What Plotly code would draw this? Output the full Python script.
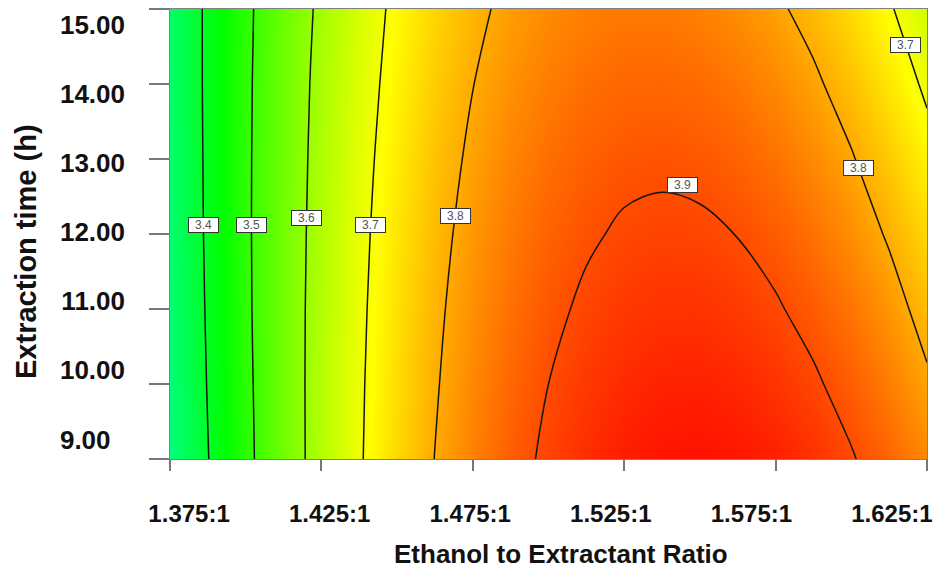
import numpy as np
import plotly.graph_objects as go

# ---------------- data ----------------
x_ratio = [1.375, 1.3875, 1.4, 1.4125, 1.425, 1.4375, 1.45, 1.4625, 1.475, 1.4875, 1.5,
           1.5125, 1.525, 1.5375, 1.55, 1.5625, 1.575, 1.5875, 1.6, 1.6125, 1.625]
y_time = [9, 10, 11, 12, 13, 14, 15]

# response (yield) estimated at each grid node, one list per extraction time
z_t09 = [3.308, 3.398, 3.482, 3.560, 3.630, 3.694, 3.751, 3.801, 3.844, 3.881, 3.910,
         3.933, 3.950, 3.959, 3.962, 3.957, 3.947, 3.929, 3.904, 3.873, 3.835]
z_t10 = [3.314, 3.403, 3.485, 3.561, 3.630, 3.692, 3.747, 3.795, 3.837, 3.872, 3.900,
         3.921, 3.936, 3.944, 3.945, 3.939, 3.926, 3.907, 3.881, 3.848, 3.808]
z_t11 = [3.319, 3.407, 3.488, 3.561, 3.629, 3.689, 3.742, 3.789, 3.829, 3.862, 3.889,
         3.908, 3.921, 3.927, 3.927, 3.919, 3.905, 3.884, 3.856, 3.822, 3.780]
z_t12 = [3.324, 3.410, 3.489, 3.561, 3.626, 3.685, 3.737, 3.782, 3.820, 3.852, 3.877,
         3.894, 3.906, 3.910, 3.908, 3.899, 3.883, 3.860, 3.830, 3.794, 3.751]
z_t13 = [3.327, 3.411, 3.489, 3.559, 3.623, 3.680, 3.730, 3.774, 3.810, 3.840, 3.863,
         3.879, 3.889, 3.892, 3.888, 3.877, 3.859, 3.835, 3.804, 3.766, 3.721]
z_t14 = [3.330, 3.412, 3.488, 3.557, 3.619, 3.674, 3.722, 3.764, 3.799, 3.827, 3.849,
         3.863, 3.871, 3.872, 3.867, 3.854, 3.835, 3.809, 3.776, 3.736, 3.690]
z_t15 = [3.331, 3.412, 3.486, 3.553, 3.613, 3.667, 3.714, 3.754, 3.787, 3.814, 3.833,
         3.846, 3.852, 3.852, 3.844, 3.830, 3.809, 3.782, 3.747, 3.706, 3.658]

contour_levels = [3.4, 3.5, 3.6, 3.7, 3.8, 3.9]

x_tick_vals = [1.375, 1.425, 1.475, 1.525, 1.575, 1.625]
x_tick_text = ["1.375:1", "1.425:1", "1.475:1", "1.525:1", "1.575:1", "1.625:1"]
y_tick_vals = [9, 10, 11, 12, 13, 14, 15]
y_tick_text = ["9.00\u2007", "10.00", "11.00", "12.00", "13.00", "14.00", "15.00"]

x_title = "Ethanol to Extractant Ratio"
y_title = "Extraction time (h)"

# ---------------- helpers ----------------
X = np.array(x_ratio, dtype=float)
Y = np.array(y_time, dtype=float)
Z = np.array([z_t09, z_t10, z_t11, z_t12, z_t13, z_t14, z_t15], dtype=float)


def z_at(xv, yv):
    i = int(np.clip(np.searchsorted(X, xv) - 1, 0, len(X) - 2))
    j = int(np.clip(np.searchsorted(Y, yv) - 1, 0, len(Y) - 2))
    tx = (xv - X[i]) / (X[i + 1] - X[i])
    ty = (yv - Y[j]) / (Y[j + 1] - Y[j])
    return (Z[j, i] * (1 - tx) * (1 - ty) + Z[j, i + 1] * tx * (1 - ty)
            + Z[j + 1, i] * (1 - tx) * ty + Z[j + 1, i + 1] * tx * ty)


def x_cross(level, yv, lo, hi):
    xs = np.linspace(lo, hi, 2001)
    d = np.array([z_at(x, yv) for x in xs]) - level
    idx = np.where(np.sign(d[:-1]) != np.sign(d[1:]))[0]
    k = idx[0]
    return xs[k] + (xs[k + 1] - xs[k]) * (-d[k]) / (d[k + 1] - d[k])


def apex(level, lo, hi):
    best = (None, -1e9)
    for xv in np.linspace(lo, hi, 401):
        ys = np.linspace(Y[0], Y[-1], 1201)
        d = np.array([z_at(xv, y) for y in ys]) - level
        idx = np.where(np.sign(d[:-1]) != np.sign(d[1:]))[0]
        if len(idx):
            k = idx[-1]
            yc = ys[k] + (ys[k + 1] - ys[k]) * (-d[k]) / (d[k + 1] - d[k])
            if yc > best[1]:
                best = (xv, yc)
    return best


colorscale = [[0.0, "rgb(0,0,255)"], [0.25, "rgb(0,255,255)"], [0.5, "rgb(0,255,0)"],
              [0.75, "rgb(255,255,0)"], [1.0, "rgb(255,0,0)"]]

fig = go.Figure()
fig.add_trace(go.Heatmap(x=x_ratio, y=y_time, z=Z, zsmooth="best", colorscale=colorscale,
                         zmin=2.90, zmax=3.98, showscale=False, hoverinfo="skip"))
fig.add_trace(go.Contour(x=x_ratio, y=y_time, z=Z, showscale=False, hoverinfo="skip",
                         contours=dict(coloring="none", start=contour_levels[0],
                                       end=contour_levels[-1], size=0.1, showlabels=False),
                         line=dict(color="#151515", width=1.5, smoothing=1)))

# invisible carriers for the label axes
fig.add_trace(go.Scatter(x=x_tick_vals, y=[12] * len(x_tick_vals), xaxis="x2", yaxis="y",
                         mode="markers", marker=dict(opacity=0), hoverinfo="skip",
                         showlegend=False))
fig.add_trace(go.Scatter(x=[1.5] * len(y_tick_vals), y=y_tick_vals, xaxis="x", yaxis="y2",
                         mode="markers", marker=dict(opacity=0), hoverinfo="skip",
                         showlegend=False))

# contour labels (boxed), positioned on the lines computed from the grid
label_spots = [(3.4, 12.12, 1.375, 1.45), (3.5, 12.12, 1.375, 1.46), (3.6, 12.21, 1.40, 1.47),
               (3.7, 12.12, 1.42, 1.50), (3.8, 12.24, 1.44, 1.53), (3.8, 12.88, 1.56, 1.625),
               (3.7, 14.52, 1.58, 1.625)]
annotations = []
box = dict(bgcolor="white", bordercolor="#333333", borderwidth=1, borderpad=1,
           width=27, height=12, showarrow=False, xref="x", yref="y",
           font=dict(family="Liberation Sans, Arial, sans-serif", size=12, color="#555555"))
for lev, yv, lo, hi in label_spots:
    annotations.append(dict(x=x_cross(lev, yv, lo, hi), y=yv, text=f"{lev:.1f}", **box))
ax, ay = apex(3.9, 1.50, 1.60)
annotations.append(dict(x=ax, y=ay, text="3.9", xshift=20, yshift=7, **box))

annotations.append(dict(text=x_title, xref="paper", yref="paper", x=0.5, y=0, xshift=12,
                        yshift=-95, showarrow=False, xanchor="center", yanchor="middle",
                        font=dict(family="Liberation Sans, Arial, sans-serif", size=26,
                                  color="#111111", weight="bold")))
annotations.append(dict(text=y_title, xref="paper", yref="paper", x=0, y=0.5, xshift=-144,
                        yshift=-18, textangle=-90, showarrow=False, xanchor="center",
                        yanchor="middle",
                        font=dict(family="Liberation Sans, Arial, sans-serif", size=29,
                                  color="#111111", weight="bold")))

tickfont_x = dict(family="Liberation Sans, Arial, sans-serif", size=24, color="#111111",
                  weight="bold")
tickfont_y = dict(family="Liberation Sans, Arial, sans-serif", size=26, color="#111111",
                  weight="bold")

fig.update_layout(
    width=939, height=575, margin=dict(l=170, r=7, t=9, b=116),
    paper_bgcolor="white", plot_bgcolor="white", showlegend=False,
    annotations=annotations,
    xaxis=dict(range=[1.375, 1.625], tickvals=x_tick_vals, showticklabels=False,
               ticks="outside", ticklen=11, tickcolor="#777777", tickwidth=1.5,
               showline=True, linecolor="#808080", linewidth=1, mirror=True,
               showgrid=False, zeroline=False),
    yaxis=dict(range=[9, 15], tickvals=y_tick_vals, showticklabels=False,
               ticks="outside", ticklen=20, tickcolor="#777777", tickwidth=1.5,
               showline=True, linecolor="#808080", linewidth=1, mirror=True,
               showgrid=False, zeroline=False),
    xaxis2=dict(overlaying="x", anchor="y", side="bottom", range=[1.368216, 1.63747],
                tickvals=x_tick_vals, ticktext=x_tick_text, ticks="", showline=False,
                showgrid=False, zeroline=False, tickfont=tickfont_x, ticklabelstandoff=38,
                ticklabeloverflow="allow"),
    yaxis2=dict(overlaying="y", anchor="x", side="left", range=[8.7168, 15.2253],
                tickvals=y_tick_vals, ticktext=y_tick_text, ticks="", showline=False,
                showgrid=False, zeroline=False, tickfont=tickfont_y, ticklabelstandoff=44,
                ticklabeloverflow="allow"),
)

fig.write_html("out.html")
